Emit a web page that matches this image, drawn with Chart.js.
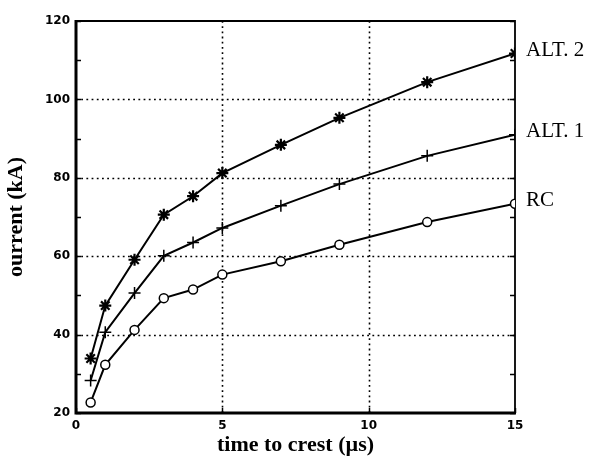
<!DOCTYPE html>
<html>
<head>
<meta charset="utf-8">
<script src="https://cdn.jsdelivr.net/npm/chart.js@4/dist/chart.umd.min.js"></script>
<style>
    html, body { margin: 0; padding: 0; background: #fff; }
    #wrap { width: 589px; height: 460px; }
</style>
</head>
<body>
<div id="wrap"><canvas id="myChart"></canvas></div>
<script>
// Data
const crestTimes = [0.5, 1, 2, 3, 4, 5, 7, 9, 12, 15];
const alt2Current = [33.9, 47.4, 59.1, 70.6, 75.3, 81.2, 88.4, 95.3, 104.4, 111.7];
const alt1Current = [28.3, 40.6, 50.6, 60.1, 63.5, 67.2, 72.9, 78.4, 85.6, 91.0];
const rcCurrent = [22.7, 32.3, 41.2, 49.3, 51.5, 55.3, 58.7, 62.9, 68.7, 73.4];
const seriesNames = ["ALT. 2", "ALT. 1", "RC"];
const xTicks = [0, 5, 10, 15];
const yTicks = [20, 40, 60, 80, 100, 120];
const yMinorTicks = [30, 50, 70, 90, 110];
const xGrid = [5, 10];
const yGrid = [40, 60, 80, 100];

const tickFont = { family: "DejaVu Sans", size: 12, weight: "bold" };

function toPoints(values) {
    return crestTimes.map((t, i) => ({ x: t, y: values[i] }));
}

// Frame, dotted grid and inner tick marks
const framePlugin = {
    id: "frame",
    beforeDatasetsDraw(chart) {
        const { ctx, chartArea: a, scales } = chart;
        const xs = scales.x, ys = scales.y;
        ctx.save();
        ctx.strokeStyle = "#000";
        ctx.lineWidth = 1.6;
        ctx.setLineDash([1.8, 3.4]);
        xGrid.forEach(v => {
            const px = Math.round(xs.getPixelForValue(v)) + 0.5;
            ctx.beginPath();
            ctx.moveTo(px, a.top);
            ctx.lineTo(px, a.bottom);
            ctx.stroke();
        });
        yGrid.forEach(v => {
            const py = Math.round(ys.getPixelForValue(v)) + 0.5;
            ctx.beginPath();
            ctx.moveTo(a.left, py);
            ctx.lineTo(a.right, py);
            ctx.stroke();
        });
        ctx.setLineDash([]);

        // inner ticks on left and right
        ctx.lineWidth = 1.5;
        yMinorTicks.concat(yTicks).forEach(v => {
            const py = Math.round(ys.getPixelForValue(v)) + 0.5;
            ctx.beginPath();
            ctx.moveTo(a.left, py);
            ctx.lineTo(a.left + 5, py);
            ctx.moveTo(a.right, py);
            ctx.lineTo(a.right - 5, py);
            ctx.stroke();
        });
        xTicks.forEach(v => {
            const px = Math.round(xs.getPixelForValue(v)) + 0.5;
            ctx.beginPath();
            ctx.moveTo(px, a.bottom);
            ctx.lineTo(px, a.bottom - 5);
            ctx.stroke();
        });

        // box: heavier on left and bottom
        ctx.lineWidth = 1.8;
        ctx.beginPath();
        ctx.moveTo(a.left, a.top);
        ctx.lineTo(a.right, a.top);
        ctx.lineTo(a.right, a.bottom);
        ctx.stroke();
        ctx.lineWidth = 3;
        ctx.beginPath();
        ctx.moveTo(a.left, a.top - 1);
        ctx.lineTo(a.left, a.bottom);
        ctx.lineTo(a.right + 1, a.bottom);
        ctx.stroke();
        ctx.restore();
    },
    // series names next to the last points
    afterDatasetsDraw(chart) {
        const { ctx } = chart;
        ctx.save();
        ctx.fillStyle = "#000";
        ctx.font = "21px 'Liberation Serif'";
        ctx.textBaseline = "middle";
        ctx.textAlign = "left";
        chart.data.datasets.forEach((ds, i) => {
            const meta = chart.getDatasetMeta(i);
            const last = meta.data[meta.data.length - 1];
            ctx.fillText(ds.label, last.x + 11, last.y - 3);
        });
        ctx.restore();
    }
};

const ctx = document.getElementById("myChart").getContext("2d");

new Chart(ctx, {
    type: "line",
    data: {
        datasets: [
            {
                label: seriesNames[0],
                data: toPoints(alt2Current),
                pointStyle: "star",
                pointRadius: 6,
                pointBorderWidth: 2.2,
            },
            {
                label: seriesNames[1],
                data: toPoints(alt1Current),
                pointStyle: "cross",
                pointRadius: 6,
                pointBorderWidth: 1.5,
            },
            {
                label: seriesNames[2],
                data: toPoints(rcCurrent),
                pointStyle: "circle",
                pointRadius: 4.5,
                pointBorderWidth: 1.5,
                pointBackgroundColor: "#fff",
            },
        ].map(ds => Object.assign({
            borderColor: "#000",
            borderWidth: 2,
            pointBorderColor: "#000",
            pointBackgroundColor: "#000",
            fill: false,
            tension: 0,
        }, ds)),
    },
    options: {
        responsive: true,
        maintainAspectRatio: false,
        animation: false,
        layout: { padding: { top: 21, right: 74, left: 0, bottom: 0 } },
        plugins: {
            legend: { display: false },
            tooltip: { enabled: false },
        },
        scales: {
            x: {
                type: "linear",
                min: 0,
                max: 15,
                afterFit: s => { s.height = 47; },
                afterBuildTicks: s => { s.ticks = xTicks.map(v => ({ value: v })); },
                grid: { display: false, drawTicks: false },
                border: { display: false },
                ticks: { color: "#000", font: tickFont, padding: 6, maxRotation: 0 },
                title: {
                    display: true,
                    text: "time to crest (\u00b5s)",
                    color: "#000",
                    font: { family: "Liberation Serif", size: 22, weight: "bold" },
                    padding: { top: 0, bottom: 1 },
                },
            },
            y: {
                min: 20,
                max: 120,
                afterFit: s => { s.width = 76; },
                afterBuildTicks: s => { s.ticks = yTicks.map(v => ({ value: v })); },
                grid: { display: false, drawTicks: false },
                border: { display: false },
                ticks: { color: "#000", font: tickFont, padding: 6 },
                title: {
                    display: true,
                    text: "ourrent (kA)",
                    color: "#000",
                    font: { family: "Liberation Serif", size: 22, weight: "bold" },
                    padding: { top: 3, bottom: 0 },
                },
            },
        },
    },
    plugins: [framePlugin],
});
</script>
</body>
</html>
